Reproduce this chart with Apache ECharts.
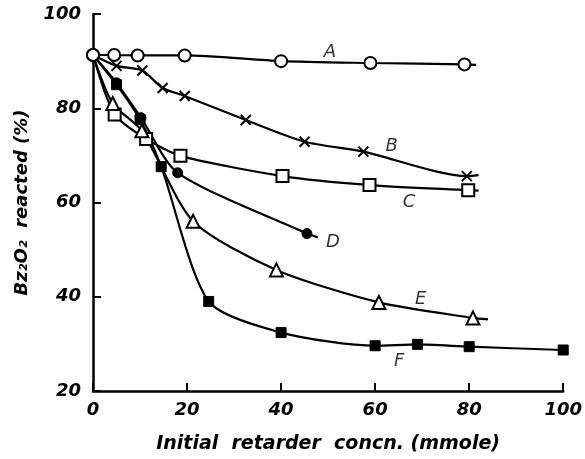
<!DOCTYPE html>
<html><head><meta charset="utf-8">
<script src="https://cdn.jsdelivr.net/npm/echarts@6/dist/echarts.min.js"></script>
<style>html,body{margin:0;padding:0;background:#fff}#c{width:585px;height:459px}</style>
</head><body><div id="c"></div>
<script>
// x: initial retarder concn (mmole), y: Bz2O2 reacted (%)
const seriesA = [[0,91.3],[4.5,91.3],[9.5,91.2],[19.5,91.2],[40,90.0],[59,89.6],[79,89.3]];
const tailA = [81.5,89.2];
const seriesB = [[5,89.0],[10.5,88.0],[14.8,84.3],[19.5,82.6],[32.5,77.5],[45,72.9],[57.5,70.8],[79.5,65.6]];
const tailB = [82,65.8];
const seriesC = [[4.6,78.7],[11.3,73.5],[18.6,69.9],[40.3,65.6],[58.8,63.7],[79.8,62.6]];
const tailC = [82,62.5];
const seriesD = [[5,85.4],[10.2,78.0],[18,66.3],[45.5,53.4]];
const tailD = [47.8,52.6];
const seriesE = [[4.2,81.0],[10.4,75.2],[21.3,56.0],[39,45.7],[60.8,38.8],[80.8,35.5]];
const tailE = [84,35.2];
const seriesF = [[5,85.0],[10,77.6],[14.5,67.6],[24.6,39.0],[40,32.4],[60,29.6],[69,29.9],[80,29.4],[100,28.7]];
const origin = [0,91.3];
const curveLabels = [['A',50.4,91.8],['B',63.5,72.0],['C',67.2,60.0],['D',51.0,51.5],['E',69.7,39.4],['F',65.1,26.2]];
const xTicks = [0,20,40,60,80,100];
const yTicks = [20,40,60,80,100];

const FONT = 'DejaVu Sans';
function withEnds(pts, tail, firstMarked){
  const d = [{value: origin, symbol: firstMarked ? undefined : 'none'}];
  pts.forEach(p => d.push({value: p}));
  if (tail) d.push({value: tail, symbol: 'none'});
  return d;
}
const base = {type:'line', smooth:0.25, clip:false, lineStyle:{color:'#000', width:2.2}, z:3};
const chart = echarts.init(document.getElementById('c'), null, {renderer:'canvas'});
chart.setOption({
  animation:false,
  backgroundColor:'#fff',
  grid:{left:93, right:8, top:14, bottom:68, containLabel:false},
  xAxis:{type:'value', min:0, max:100, interval:20,
    axisLine:{lineStyle:{color:'#000', width:2.5}},
    axisTick:{inside:true, length:8, lineStyle:{color:'#000', width:2}},
    splitLine:{show:false},
    axisLabel:{color:'#000', fontFamily:FONT, fontStyle:'italic', fontWeight:'bold', fontSize:18, margin:10, formatter: v => xTicks.includes(v) ? String(v) : ''},
    name:'Initial  retarder  concn. (mmole)', nameLocation:'middle', nameGap:44,
    nameTextStyle:{color:'#000', fontFamily:FONT, fontStyle:'italic', fontWeight:'bold', fontSize:19}
  },
  yAxis:{type:'value', min:20, max:100, interval:20,
    axisLine:{lineStyle:{color:'#000', width:2.5}},
    axisTick:{inside:true, length:8, lineStyle:{color:'#000', width:2}},
    splitLine:{show:false},
    axisLabel:{color:'#000', fontFamily:FONT, fontStyle:'italic', fontWeight:'bold', fontSize:18, margin:12, formatter: v => yTicks.includes(v) ? String(v) : ''},
    name:'Bz\u2082O\u2082  reacted (%)', nameLocation:'middle', nameGap:62, nameRotate:90,
    nameTextStyle:{color:'#000', fontFamily:FONT, fontStyle:'italic', fontWeight:'bold', fontSize:18}
  },
  series:[
    Object.assign({}, base, {name:'A', data:withEnds(seriesA, tailA, true), symbol:'circle', symbolSize:12,
      itemStyle:{color:'#fff', borderColor:'#000', borderWidth:2}, z:5}),
    Object.assign({}, base, {name:'B', data:withEnds(seriesB, tailB, false), symbol:'path://M0,0L10,10M10,0L0,10', symbolSize:10,
      itemStyle:{color:'none', borderColor:'#000', borderWidth:2}}),
    Object.assign({}, base, {name:'C', data:withEnds(seriesC, tailC, false), symbol:'rect', symbolSize:12,
      itemStyle:{color:'#fff', borderColor:'#000', borderWidth:2}}),
    Object.assign({}, base, {name:'D', data:withEnds(seriesD, tailD, false), symbol:'circle', symbolSize:10,
      itemStyle:{color:'#000', borderColor:'#000', borderWidth:1}}),
    Object.assign({}, base, {name:'E', data:withEnds(seriesE, tailE, false), symbol:'triangle', symbolSize:13,
      itemStyle:{color:'#fff', borderColor:'#000', borderWidth:2}}),
    Object.assign({}, base, {name:'F', data:withEnds(seriesF, null, false), symbol:'rect', symbolSize:10,
      itemStyle:{color:'#000', borderColor:'#000', borderWidth:1}}),
    {type:'scatter', name:'labels', symbolSize:0, z:6,
      data: curveLabels.map(l => ({name:l[0], value:[l[1], l[2]]})),
      label:{show:true, position:'inside', formatter: p => p.name, color:'#000', fontFamily:FONT, fontStyle:'italic', fontSize:18}}
  ]
});
</script></body></html>
